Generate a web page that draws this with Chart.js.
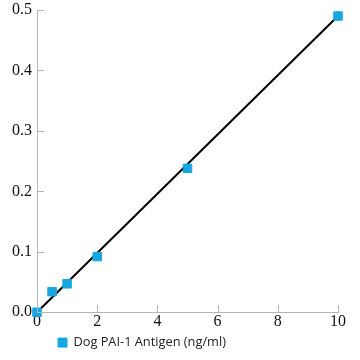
<!DOCTYPE html>
<html><head><meta charset="utf-8">
<script src="https://cdn.jsdelivr.net/npm/chart.js@4"></script>
<style>html,body{margin:0;padding:0;background:#fff}#w{width:360px;height:360px}</style>
</head><body><div id="w"><canvas id="c"></canvas></div>
<script>
const concentrations = [0, 0.5, 1, 2, 5, 10];
const absorbance = [0, 0.034, 0.047, 0.092, 0.238, 0.49];
const fitX = [0, 10];
const fitY = [0, 0.49];
const xTicks = [0, 2, 4, 6, 8, 10];
const yTicks = [0, 0.1, 0.2, 0.3, 0.4, 0.5];
const seriesLabel = 'Dog PAI-1 Antigen (ng/ml)';

const axisColor = '#b5b5b5';
const pointColor = '#16a6e0';

const inwardTicks = {
  id: 'inwardTicks',
  afterDraw(chart) {
    const ctx = chart.ctx, x = chart.scales.x, y = chart.scales.y;
    ctx.save();
    ctx.strokeStyle = axisColor; ctx.lineWidth = 1;
    ctx.beginPath();
    xTicks.forEach(v => { const p = Math.round(x.getPixelForValue(v)) + 0.5; ctx.moveTo(p, x.top); ctx.lineTo(p, x.top - 7); });
    yTicks.forEach(v => { const p = Math.round(y.getPixelForValue(v)) + 0.5; ctx.moveTo(y.right, p); ctx.lineTo(y.right + 7, p); });
    ctx.stroke();
    ctx.restore();
  }
};
const legendShift = {
  id: 'legendShift',
  afterLayout(chart) { const l = chart.legend; const d = 54 - l.left; l.left += d; l.right += d; }
};

new Chart(document.getElementById('c'), {
  type: 'scatter',
  data: {
    datasets: [
      { label: 'fit', data: fitX.map((v, i) => ({x: v, y: fitY[i]})), showLine: true, borderColor: '#000', borderWidth: 2, pointRadius: 0, order: 2, clip: false },
      { label: seriesLabel, data: concentrations.map((v, i) => ({x: v, y: absorbance[i]})), pointStyle: 'rect', pointRadius: 6, backgroundColor: pointColor, borderColor: pointColor, borderWidth: 1, order: 1, clip: false }
    ]
  },
  options: {
    responsive: true, maintainAspectRatio: false, animation: false,
    layout: { padding: { top: 10, right: 22, left: 0, bottom: 1 } },
    plugins: {
      tooltip: { enabled: false },
      legend: {
        position: 'bottom', align: 'start',
        labels: { filter: it => it.text !== 'fit', boxWidth: 9, boxHeight: 9, padding: 4,
          font: { family: 'Open Sans', size: 12.8 }, color: '#222' }
      }
    },
    scales: {
      x: {
        type: 'linear', min: 0, max: 10,
        afterFit: s => { s.height = 20; },
        afterBuildTicks: s => { s.ticks = xTicks.map(v => ({value: v})); },
        grid: { display: false, drawTicks: false },
        border: { display: true, color: axisColor, width: 1 },
        ticks: { padding: 0, color: '#111', font: { family: 'Liberation Serif', size: 16 } }
      },
      y: {
        type: 'linear', min: 0, max: 0.5,
        afterFit: s => { s.width = 37; s.paddingTop = 0; s.paddingBottom = 0; },
        afterBuildTicks: s => { s.ticks = yTicks.map(v => ({value: v})); },
        grid: { display: false, drawTicks: false },
        border: { display: true, color: axisColor, width: 1 },
        ticks: { padding: 5, color: '#111', font: { family: 'Liberation Serif', size: 16 }, callback: v => v.toFixed(1) }
      }
    }
  },
  plugins: [inwardTicks, legendShift]
});
</script></body></html>
